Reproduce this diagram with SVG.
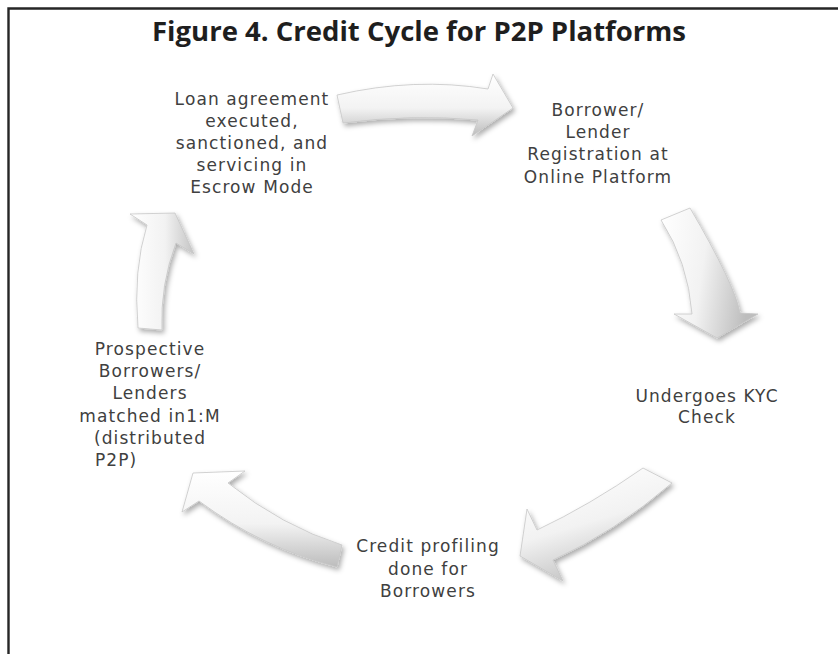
<svg xmlns="http://www.w3.org/2000/svg" width="838" height="654" viewBox="0 0 838 654">
  <defs>
    <style>
      .frame { fill: none; stroke: #262626; stroke-width: 2.4; }
      .title { font-family: "Open Sans", "Liberation Sans", sans-serif; font-weight: 700; font-size: 26px; fill: #1e1e1e; }
      .label { font-family: "DejaVu Sans", "Liberation Sans", sans-serif; font-size: 17px; letter-spacing: 1.1px; fill: #404040; text-anchor: middle; }
      .arrow { stroke: #c6c6c6; stroke-width: 0.8; stroke-linejoin: round; filter: url(#soft-shadow); }
    </style>
    <filter id="soft-shadow" x="-20%" y="-20%" width="150%" height="150%">
      <feDropShadow dx="2" dy="3" stdDeviation="2.6" flood-color="#000" flood-opacity="0.32"/>
    </filter>
    <linearGradient id="shade-down" x1="0" y1="0" x2="0" y2="1">
      <stop offset="0" stop-color="#ffffff"/>
      <stop offset="0.55" stop-color="#f3f3f3"/>
      <stop offset="1" stop-color="#bcbcbc"/>
    </linearGradient>
    <linearGradient id="shade-right" x1="0" y1="0" x2="1" y2="0.2">
      <stop offset="0" stop-color="#ffffff"/>
      <stop offset="0.5" stop-color="#f2f2f2"/>
      <stop offset="1" stop-color="#bdbdbd"/>
    </linearGradient>
    <linearGradient id="shade-diag" x1="0.2" y1="0" x2="0.6" y2="1">
      <stop offset="0" stop-color="#ffffff"/>
      <stop offset="0.5" stop-color="#f2f2f2"/>
      <stop offset="1" stop-color="#bcbcbc"/>
    </linearGradient>
    <linearGradient id="shade-left" x1="0" y1="0" x2="1" y2="0">
      <stop offset="0" stop-color="#ffffff"/>
      <stop offset="0.55" stop-color="#f2f2f2"/>
      <stop offset="1" stop-color="#c4c4c4"/>
    </linearGradient>
  </defs>

  <rect width="838" height="654" fill="#ffffff"/>

  <!-- open frame: only the top and left rules fall inside the canvas -->
  <path class="frame" d="M8.5,654 V8.5 H838"/>

  <g id="title">
    <text class="title" x="419" y="41" text-anchor="middle" textLength="534" lengthAdjust="spacingAndGlyphs">Figure 4. Credit Cycle for P2P Platforms</text>
  </g>

  <!-- curved block arrows running clockwise round the cycle -->
  <g id="connectors">
    <path id="arrow-loan-to-registration" class="arrow" fill="url(#shade-down)"
          d="M337,95 Q415,77 488,89 L493,74 L513,108 L472,136 L478,120 Q412,114 343,123 Z"/>
    <path id="arrow-registration-to-kyc" class="arrow" fill="url(#shade-right)"
          d="M661,220 L690,208 Q735,285 740,313 L758,314 L717,338 L674,314 L692,314 Q688,262 661,220 Z"/>
    <path id="arrow-kyc-to-credit" class="arrow" fill="url(#shade-diag)"
          d="M672,483 L643,468 Q590,505 537,530 L527,509 L520,556 L563,581 L553,560 Q615,532 672,483 Z"/>
    <path id="arrow-credit-to-matching" class="arrow" fill="url(#shade-down)"
          d="M342,545 Q282,526 228,483 L245,471 L193,473 L182,512 L199,501 Q262,548 337,567 Z"/>
    <path id="arrow-matching-to-loan" class="arrow" fill="url(#shade-left)"
          d="M138,328 Q133,270 147,225 L130,214 L175,213 L194,254 L176,243 Q160,285 162,330 Z"/>
  </g>

  <g id="node-loan">
    <text class="label" x="252" y="105">Loan agreement</text>
    <text class="label" x="252" y="127">executed,</text>
    <text class="label" x="252" y="149">sanctioned, and</text>
    <text class="label" x="252" y="171">servicing in</text>
    <text class="label" x="252" y="193">Escrow Mode</text>
  </g>

  <g id="node-registration">
    <text class="label" x="598" y="116">Borrower/</text>
    <text class="label" x="598" y="138">Lender</text>
    <text class="label" x="598" y="160">Registration at</text>
    <text class="label" x="598" y="183">Online Platform</text>
  </g>

  <g id="node-kyc">
    <text class="label" x="707" y="402">Undergoes KYC</text>
    <text class="label" x="707" y="423">Check</text>
  </g>

  <g id="node-credit">
    <text class="label" x="428" y="552">Credit profiling</text>
    <text class="label" x="428" y="575">done for</text>
    <text class="label" x="428" y="597">Borrowers</text>
  </g>

  <g id="node-matching">
    <text class="label" x="150" y="355">Prospective</text>
    <text class="label" x="150" y="377">Borrowers/</text>
    <text class="label" x="150" y="399">Lenders</text>
    <text class="label" x="150" y="422">matched in1:M</text>
    <text class="label" x="150" y="444">(distributed</text>
    <text class="label" x="95" y="466" style="text-anchor:start">P2P)</text>
  </g>
</svg>
